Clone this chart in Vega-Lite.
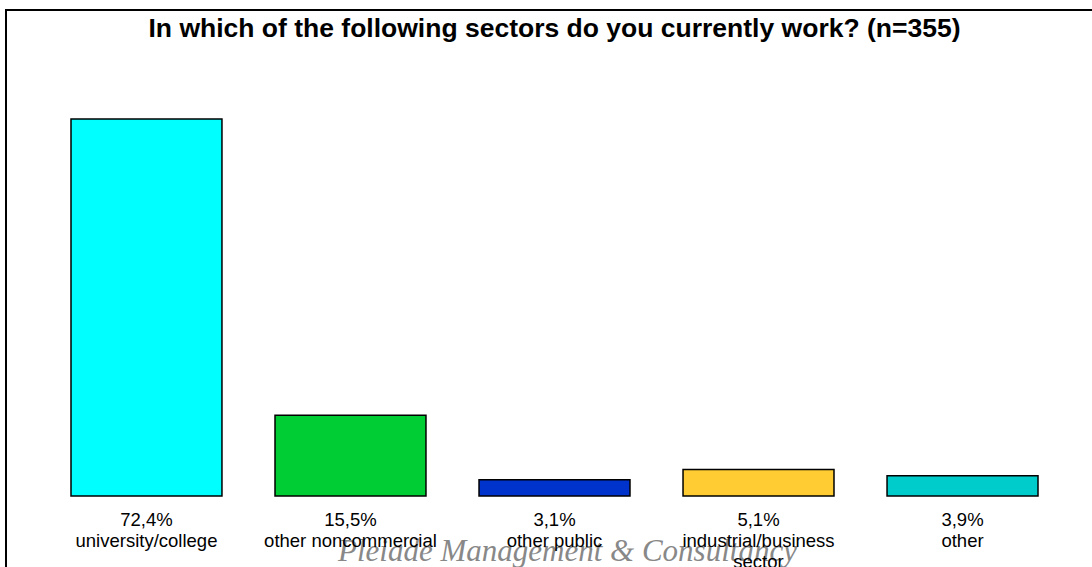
{
  "$schema": "https://vega.github.io/schema/vega-lite/v6.json",
  "width": 1097,
  "height": 570,
  "autosize": "none",
  "padding": {"left": 6, "top": 10, "right": 0, "bottom": 0},
  "background": "white",
  "config": {"view": {"stroke": "black", "strokeWidth": 2}},
  "title": {
    "text": "In which of the following sectors do you currently work? (n=355)",
    "font": "Liberation Sans",
    "fontSize": 26.5,
    "fontWeight": "bold",
    "color": "black",
    "anchor": "middle",
    "offset": -32
  },
  "data": {
    "values": [
      {"sector": "university/college", "pct": 72.4, "label": "72,4%\nuniversity/college"},
      {"sector": "other noncommercial", "pct": 15.5, "label": "15,5%\nother noncommercial"},
      {"sector": "other public", "pct": 3.1, "label": "3,1%\nother public"},
      {"sector": "industrial/business sector", "pct": 5.1, "label": "5,1%\nindustrial/business\nsector"},
      {"sector": "other", "pct": 3.9, "label": "3,9%\nother"}
    ]
  },
  "encoding": {
    "x": {
      "field": "sector",
      "type": "nominal",
      "sort": null,
      "scale": {"paddingInner": 0.26, "paddingOuter": 0.3186},
      "axis": null
    }
  },
  "layer": [
    {
      "mark": {"type": "bar", "stroke": "black", "strokeWidth": 1.5},
      "encoding": {
        "y": {
          "field": "pct",
          "type": "quantitative",
          "scale": {"domain": [-16.13, 93.34], "nice": false, "zero": false},
          "axis": null
        },
        "y2": {"datum": 0},
        "color": {
          "field": "sector",
          "type": "nominal",
          "sort": null,
          "scale": {
            "domain": ["university/college", "other noncommercial", "other public", "industrial/business sector", "other"],
            "range": ["#00FFFF", "#00CC33", "#0033CC", "#FFCC33", "#00CCCC"]
          },
          "legend": null
        }
      }
    },
    {
      "data": {"values": [{"wm": "Pleiade Management & Consultancy", "pos": "other public"}]},
      "mark": {
        "type": "text",
        "font": "Liberation Serif",
        "fontStyle": "italic",
        "fontSize": 31,
        "color": "#888888",
        "baseline": "alphabetic",
        "align": "center",
        "dx": 13,
        "dy": 65
      },
      "encoding": {
        "x": {"field": "pos", "type": "nominal"},
        "y": {"datum": 0, "type": "quantitative"},
        "text": {"field": "wm"}
      }
    },
    {
      "mark": {
        "type": "text",
        "font": "Liberation Sans",
        "fontSize": 18.5,
        "color": "black",
        "baseline": "alphabetic",
        "align": "center",
        "lineBreak": "\n",
        "lineHeight": 21,
        "dy": 30
      },
      "encoding": {
        "y": {"datum": 0, "type": "quantitative"},
        "text": {"field": "label"}
      }
    }
  ]
}
